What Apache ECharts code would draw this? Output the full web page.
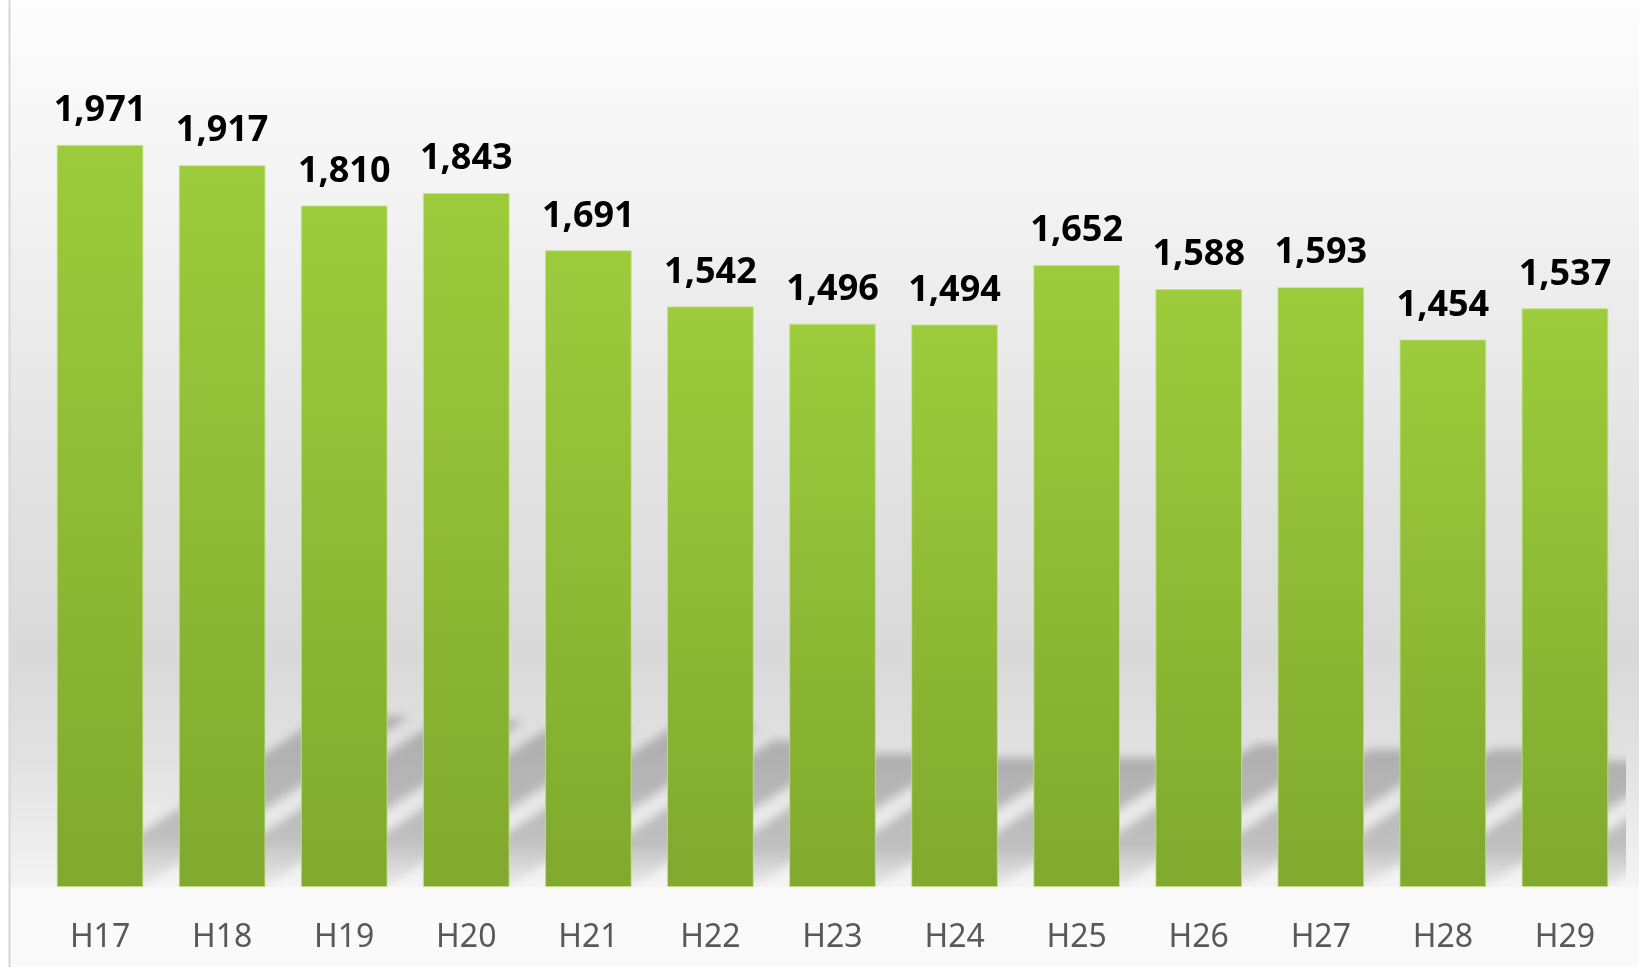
<!DOCTYPE html>
<html>
<head>
<meta charset="utf-8">
<script src="https://cdn.jsdelivr.net/npm/echarts@6/dist/echarts.min.js"></script>
<style>
  html, body { margin: 0; padding: 0; background: #fff; }
  #chart { width: 1639px; height: 967px; }
</style>
</head>
<body>
<div id="chart"></div>
<script>
const categories = ['H17', 'H18', 'H19', 'H20', 'H21', 'H22', 'H23', 'H24', 'H25', 'H26', 'H27', 'H28', 'H29']
const values = [1971, 1917, 1810, 1843, 1691, 1542, 1496, 1494, 1652, 1588, 1593, 1454, 1537]

const chart = echarts.init(document.getElementById('chart'))

// soft slanted floor shadow behind each bar, built from the bar value.
// the shape itself is drawn off to the left and only its blurred canvas shadow lands in place
const OFF = 3000
function renderShadow(params, api) {
  const i = api.value(0)
  const base = api.coord([i, 0])
  const top = api.coord([i, api.value(1)])
  const w = api.size([1, 0])[0] * 0.71
  const h = (base[1] - top[1]) * 0.23
  const dx = h * 1.56
  const x0 = base[0] - w / 2 - OFF
  const x1 = base[0] + w / 2 - OFF
  return {
    type: 'polygon',
    shape: {
      points: [[x0, base[1]], [x1, base[1]], [x1 + dx, base[1] - h], [x0 + dx, base[1] - h]],
    },
    style: {
      fill: new echarts.graphic.LinearGradient(0, 0, 0, 1, [
        { offset: 0, color: 'rgba(110,110,110,0.44)' },
        { offset: 0.7, color: 'rgba(110,110,110,0.36)' },
        { offset: 1, color: 'rgba(110,110,110,0.06)' },
      ]),
      shadowBlur: 10,
      shadowOffsetX: OFF,
      shadowColor: 'rgb(110,110,110)',
    },
  }
}

chart.setOption({
  animation: false,
  graphic: [
    {
      type: 'rect',
      z: -10,
      silent: true,
      shape: { x: 9, y: 0, width: 1630, height: 887 },
      style: {
        fill: new echarts.graphic.LinearGradient(0, 0, 0, 1, [
          { offset: 0, color: '#fdfdfd' },
          { offset: 0.22, color: '#f3f3f3' },
          { offset: 0.5, color: '#e4e4e4' },
          { offset: 0.74, color: '#d9d9d9' },
          { offset: 0.86, color: '#e2e2e2' },
          { offset: 1, color: '#f4f4f4' },
        ]),
      },
    },
    {
      type: 'rect',
      z: -10,
      silent: true,
      shape: { x: 9, y: 887, width: 1630, height: 80 },
      style: { fill: '#fafafa' },
    },
    {
      type: 'line',
      z: -9,
      silent: true,
      shape: { x1: 9.5, y1: 0, x2: 9.5, y2: 967 },
      style: { stroke: '#d6d6d6', lineWidth: 2 },
    },
  ],
  grid: { left: 39, right: 13, top: 21, bottom: 80 },
  xAxis: {
    type: 'category',
    data: categories,
    axisLine: { show: false },
    axisTick: { show: false },
    axisLabel: {
      color: '#595959',
      fontFamily: 'Noto Sans',
      fontSize: 32,
      margin: 35,
    },
  },
  yAxis: {
    type: 'value',
    min: 0,
    max: 2300,
    show: false,
    splitLine: { show: false },
  },
  series: [
    {
      type: 'custom',
      z: 1,
      clip: true,
      silent: true,
      renderItem: renderShadow,
      data: values.map((v, i) => [i, v]),
    },
    {
      type: 'bar',
      z: 2,
      barWidth: '71%',
      data: values,
      itemStyle: {
        color: new echarts.graphic.LinearGradient(0, 0, 0, 1, [
          { offset: 0, color: '#9ccc3c' },
          { offset: 1, color: '#80a92e' },
        ]),
        borderColor: 'rgba(195,228,130,0.8)',
        borderWidth: 1,
      },
      label: {
        show: true,
        position: 'top',
        distance: 16,
        color: '#000',
        fontFamily: 'Noto Sans',
        fontWeight: 'bold',
        fontSize: 36,
        formatter: p => p.value.toLocaleString('en-US'),
      },
    },
  ],
})
</script>
</body>
</html>
